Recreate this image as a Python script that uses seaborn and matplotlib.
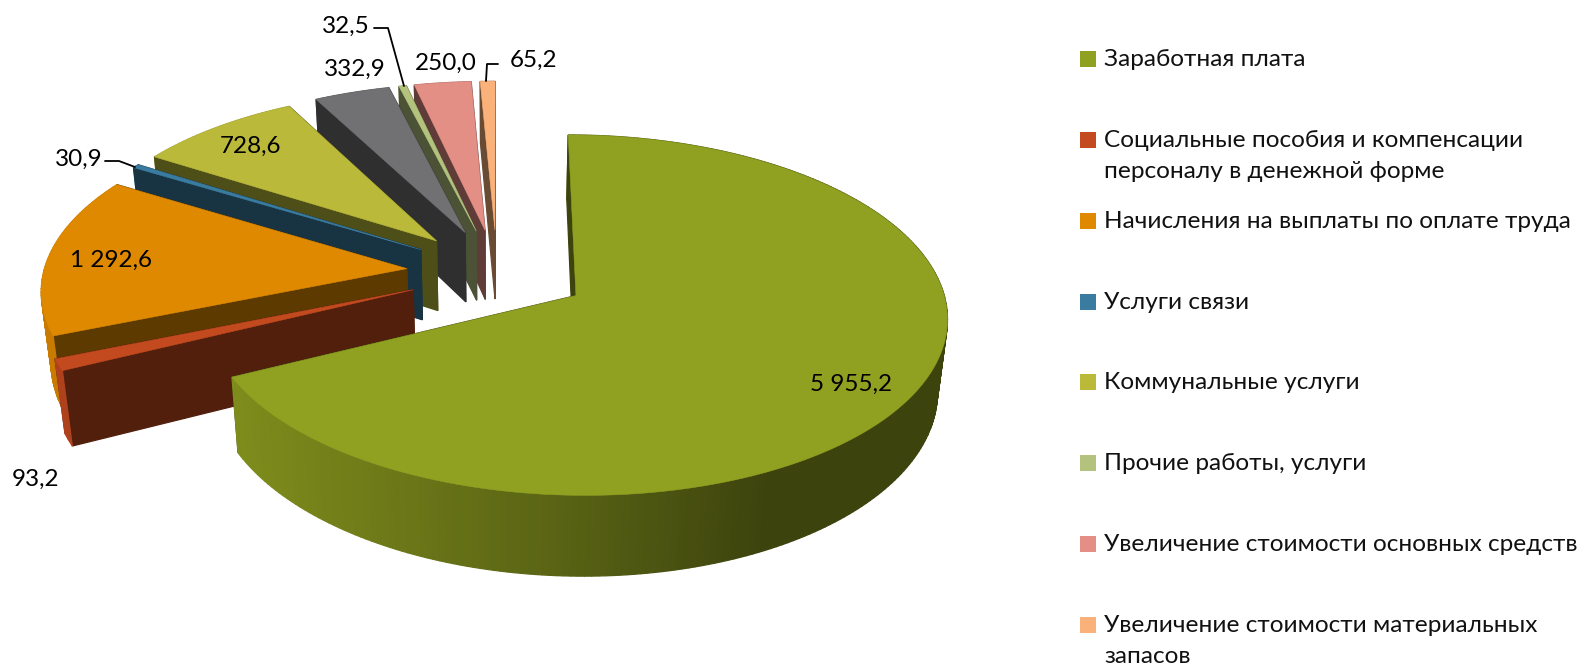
import numpy as np
import matplotlib
matplotlib.use('Agg')
import matplotlib.pyplot as plt
from matplotlib.patches import Polygon
import seaborn as sns

# Datos del grafico
valores = [5955.2, 93.2, 1292.6, 30.9, 728.6, 332.9, 32.5, 250.0, 65.2]
etiquetas = ['5 955,2', '93,2', '1 292,6', '30,9', '728,6', '332,9', '32,5', '250,0', '65,2']
colores = ['#90A020', '#C34A1F', '#DE8900', '#3A7CA0', '#BAB93A', '#717173', '#B3C37E', '#E38F85', '#FBB27A']
leyenda = ['Заработная плата',
           'Социальные пособия и компенсации\nперсоналу в денежной форме',
           'Начисления на выплаты по оплате труда',
           'Услуги связи',
           'Коммунальные услуги',
           'Прочие работы, услуги',
           'Увеличение стоимости основных средств',
           'Увеличение стоимости материальных\nзапасов']
colores_leyenda = ['#90A020', '#C34A1F', '#DE8900', '#3A7CA0', '#BAB93A', '#B3C37E', '#E38F85', '#FBB27A']

# Parametros de la proyeccion (en pixeles de la figura)
cx, cy = 497, 272
A, B = 363, 173
k = 0.107        # perspectiva
alto = 71        # grosor del pastel
explode = [0.253, 0.25, 0.25, 0.25, 0.25, 0.25, 0.25, 0.25, 0.25]
fuente = ['Lato', 'Open Sans', 'DejaVu Sans']

sns.set_theme(style='white')
plt.rcParams['font.family'] = fuente
paleta = sns.color_palette(colores)


def proyectar(X, Y, z=0.0):
    w = 1 + k * Y
    return cx + A * X / (w + 0.022 * z), cy - B * Y / w + alto * z / w


def tono(color, f):
    return tuple(np.array(color) * f)


def sombra_borde(sx):
    return np.interp(sx, [40, 232, 560, 770, 960], [0.9, 0.88, 0.62, 0.42, 0.42])


fig = plt.figure(figsize=(15.83, 6.66), dpi=100)
ax = fig.add_axes([0, 0, 1, 1])
ax.set_xlim(0, 1583)
ax.set_ylim(666, 0)
ax.axis('off')

total = sum(valores)
fin = np.cumsum(valores) / total * 360
inicio = np.concatenate([[0], fin[:-1]])
medio = np.radians((inicio + fin) / 2)

# primero las porciones del fondo
orden = np.argsort(-np.cos(medio))
z = 1
for i in orden:
    x0 = explode[i] * np.sin(medio[i])
    y0 = explode[i] * np.cos(medio[i])
    ang = np.radians(np.linspace(inicio[i], fin[i], max(3, int(fin[i] - inicio[i]))))
    X = x0 + np.sin(ang)
    Y = y0 + np.cos(ang)

    caras = []
    # caras radiales
    for j in (0, -1):
        Xc, Yc = [x0, X[j]], [y0, Y[j]]
        a1, b1 = proyectar(np.array(Xc), np.array(Yc), 0)
        a2, b2 = proyectar(np.array(Xc), np.array(Yc), 1)
        pts = [(a1[0], b1[0]), (a1[1], b1[1]), (a2[1], b2[1]), (a2[0], b2[0])]
        caras.append((np.mean(Yc), pts, tono(paleta[i], 0.42)))
    # borde exterior con degradado
    a1, b1 = proyectar(X, Y, 0)
    a2, b2 = proyectar(X, Y, 1)
    for j in range(len(X) - 1):
        pts = [(a1[j], b1[j]), (a1[j + 1], b1[j + 1]), (a2[j + 1], b2[j + 1]), (a2[j], b2[j])]
        caras.append(((Y[j] + Y[j + 1]) / 2, pts, tono(paleta[i], sombra_borde((a1[j] + a1[j + 1]) / 2))))

    caras.sort(key=lambda c: -c[0])
    for _, pts, col in caras:
        ax.add_patch(Polygon(pts, closed=True, facecolor=col, edgecolor=col, linewidth=0.9, zorder=z))
        z += 1
    ax_top, ay_top = proyectar(np.r_[x0, X], np.r_[y0, Y], 0)
    ax.add_patch(Polygon(np.c_[ax_top, ay_top], closed=True, facecolor=paleta[i], edgecolor=paleta[i],
                         linewidth=0.4, zorder=z))
    z += 1

# Etiquetas de datos
pos_etiquetas = [(851, 384), (36, 479), (111, 260), (79, 159), (251, 146),
                 (355, 69), (346, 26), (446, 63), (534, 60)]
for txt, (px, py) in zip(etiquetas, pos_etiquetas):
    ax.text(px, py, txt, ha='center', va='center', fontsize=17.5, color='black', zorder=z + 1)

# Lineas guia
ax.plot([105, 119, 135], [161, 161, 167], color='black', lw=1.3, zorder=z + 1)
ax.plot([374, 388, 404], [28, 28, 86], color='black', lw=1.3, zorder=z + 1)
ax.plot([486, 487, 498], [81, 64, 64], color='black', lw=1.3, zorder=z + 1)

# Leyenda
filas = [59, 140, 221, 302, 382, 463, 544, 625]
sns.scatterplot(x=[1088] * len(filas), y=filas, hue=leyenda, palette=colores_leyenda, hue_order=leyenda,
                marker='s', s=120, linewidth=0, legend=False, ax=ax, zorder=z + 1)
for texto, y in zip(leyenda, filas):
    ax.text(1104, y - 10, texto, ha='left', va='top', fontsize=17.6, color='#111111',
            linespacing=1.58, zorder=z + 1)
ax.set_xlim(0, 1583)
ax.set_ylim(666, 0)
ax.axis('off')

fig.savefig('out.png', dpi=100)
